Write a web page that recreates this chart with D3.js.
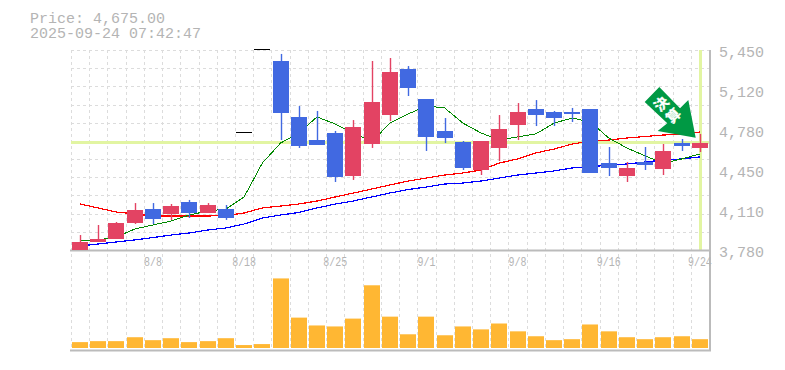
<!DOCTYPE html>
<html>
<head>
<meta charset="utf-8">
<script src="https://cdn.jsdelivr.net/npm/d3@7"></script>
<style>
body { margin: 0; background: #fff; }
svg { display: block; }
text { font-family: "Liberation Mono", monospace; fill: #b4b4b4; }
</style>
</head>
<body>
<div id="chart"></div>
<script>
const dates = ["8/4","8/5","8/6","8/7","8/8","8/12","8/13","8/14","8/15","8/18","8/19","8/20","8/21","8/22","8/25","8/26","8/27","8/28","8/29","9/1","9/2","9/3","9/4","9/5","9/8","9/9","9/10","9/11","9/12","9/16","9/17","9/18","9/19","9/22","9/24"];
const opens = [3780,3847,3872,4005,4122,4081,4181,4089,4122,4757,5450,5358,4891,4698,4757,4398,4665,4907,5291,5041,4774,4682,4448,4632,4824,4957,4932,4932,4957,4506,4398,4515,4456,4673,4632];
const highs = [3905,3989,4014,4172,4172,4164,4198,4172,4156,4757,5450,5417,4982,4941,4774,4865,5358,5383,5316,5041,4882,4690,4690,4907,5007,5032,4941,4966,4957,4640,4515,4640,4665,4707,4749];
const lows = [3780,3847,3872,3997,3997,4031,4047,4089,4031,4757,5450,4698,4632,4657,4348,4365,4632,4857,5066,4607,4673,4448,4406,4523,4698,4815,4815,4849,4423,4398,4348,4448,4406,4607,4598];
const closes = [3847,3872,4005,4114,4039,4147,4089,4156,4047,4757,5450,4924,4648,4657,4390,4807,5016,5266,5133,4724,4715,4465,4690,4790,4932,4907,4882,4916,4423,4465,4465,4490,4607,4648,4675];
const ma5 = [3855,3864,3889,3955,3989,4022,4072,4106,4122,4223,4506,4673,4757,4891,4832,4757,4682,4840,4916,4982,4966,4840,4757,4698,4724,4749,4840,4882,4849,4715,4632,4565,4506,4540,4582];
const ma25 = [4164,4131,4097,4081,4064,4064,4064,4064,4068,4089,4131,4147,4164,4189,4223,4256,4289,4323,4356,4381,4406,4423,4448,4506,4540,4590,4623,4665,4690,4698,4715,4728,4740,4749,4765];
const ma75 = [3813,3830,3847,3864,3884,3905,3922,3947,3964,3997,4047,4072,4093,4131,4164,4189,4223,4256,4285,4306,4331,4339,4356,4381,4406,4423,4440,4465,4473,4490,4498,4515,4532,4540,4557];
const volumes = [6,7,7,11,8,10,6,7,10,3,4,71,31,23,22,30,64,32,14,32,13,22,19,25,17,12,8,9,24,17,11,9,11,12,9];
const priceTicks = [3780,4110,4450,4780,5120,5450];
const dateTicks = ["8/8","8/18","8/25","9/1","9/8","9/16","9/24"];
const gridSteps = d3.range(12);
const lastPrice = 4675;

const svg = d3.select("#chart").append("svg").attr("width", 785).attr("height", 370);

const x = d3.scaleBand().domain(dates).range([70.9, 709]);
const y = d3.scaleLinear().domain([3780, 5450]).range([250, 50]);
const yVol = d3.scaleLinear().domain([0, 100]).range([348, 250]);
const cx = i => x(dates[i]) + x.bandwidth() / 2;
const snap = v => Math.round(v) + 0.5;

svg.append("text").attr("x", 30).attr("y", 23).style("font-size", "15px").text("Price: 4,675.00");
svg.append("text").attr("x", 30).attr("y", 38).style("font-size", "15px").text("2025-09-24 07:42:47");

// grid
const gridColor = "#dcdcdc";
svg.selectAll(".hgrid").data(gridSteps).enter().append("line")
	.attr("x1", 71).attr("x2", 710)
	.attr("y1", d => snap(50 + d * 200 / 11)).attr("y2", d => snap(50 + d * 200 / 11))
	.attr("stroke", gridColor).attr("stroke-dasharray", "3,3");
svg.selectAll(".vgrid").data(dates).enter().append("line")
	.attr("x1", d => snap(x(d))).attr("x2", d => snap(x(d)))
	.attr("y1", 50).attr("y2", 350)
	.attr("stroke", gridColor).attr("stroke-dasharray", "3,3");

// current price cross
svg.append("rect").attr("x", 71).attr("y", Math.round(y(lastPrice)) - 2).attr("width", 638).attr("height", 3).attr("fill", "#e2f5a2");
svg.append("rect").attr("x", Math.round(cx(34)) - 1).attr("y", 50).attr("width", 3).attr("height", 200).attr("fill", "#e2f5a2");

// frame
const frameColor = "#bbb";
[[70, 250.5, 710, 250.5], [70, 350.5, 711, 350.5], [710, 50, 710, 351]].forEach(l => {
	svg.append("line").attr("x1", l[0]).attr("y1", l[1]).attr("x2", l[2]).attr("y2", l[3])
		.attr("stroke", frameColor).attr("stroke-width", 2);
});

// moving averages
const line = d3.line().x((d, i) => cx(i)).y(d => y(d));
[[ma25, "#f00", 1.2], [ma75, "#00f", 1.2], [ma5, "#080", 1]].forEach(m => {
	svg.append("path").attr("d", line(m[0])).attr("fill", "none").attr("stroke", m[1])
		.attr("stroke-width", m[2]).attr("shape-rendering", "crispEdges");
});

// candles
const idx = d3.range(dates.length);
const candleColor = i => closes[i] == opens[i] ? "#000" : closes[i] > opens[i] ? "#e34363" : "#4169e1";
svg.selectAll(".wick").data(idx).enter().append("line")
	.attr("x1", i => Math.round(cx(i)) + 0.5).attr("x2", i => Math.round(cx(i)) + 0.5)
	.attr("y1", i => y(highs[i])).attr("y2", i => y(lows[i]))
	.attr("stroke", candleColor).attr("stroke-width", 1.4);
svg.selectAll(".body").data(idx).enter().append("rect")
	.attr("x", i => Math.round(cx(i)) - 8)
	.attr("y", i => Math.round(y(Math.max(opens[i], closes[i]))) - (closes[i] == opens[i] ? 1 : 0))
	.attr("width", 16)
	.attr("height", i => Math.max(1, Math.round(Math.abs(y(opens[i]) - y(closes[i])))))
	.attr("fill", candleColor);

// volume
svg.selectAll(".vol").data(idx).enter().append("rect")
	.attr("x", i => Math.round(cx(i)) - 8)
	.attr("y", i => yVol(volumes[i]))
	.attr("width", 16)
	.attr("height", i => yVol(0) - yVol(volumes[i]))
	.attr("fill", "#ffb733");

// labels
svg.selectAll(".plabel").data(priceTicks).enter().append("text")
	.attr("x", 719).attr("y", d => y(d) + 7)
	.style("font-size", "15px")
	.text(d => d3.format(",")(d));
svg.selectAll(".dlabel").data(dateTicks).enter().append("text")
	.attr("transform", d => "translate(" + cx(dates.indexOf(d)) + ",266) scale(0.83,1)")
	.attr("text-anchor", "middle")
	.style("font-size", "12px")
	.text(d => d);

// announcement arrow
svg.append("path")
	.attr("d", "M659.3,87 L644.7,102 L667.3,123.3 L657.7,131 L695.7,137.7 L688.3,100 L680,108.3 Z")
	.attr("fill", "#009944");
[["決", 660.7, 103.3], ["算", 672.7, 115]].forEach(k => {
	svg.append("text").attr("text-anchor", "middle").attr("dominant-baseline", "central")
		.attr("transform", "translate(" + k[1] + "," + k[2] + ") rotate(-45)")
		.style("font-family", "'Noto Sans CJK JP'").style("font-size", "14px").style("font-weight", "bold").style("fill", "#fff")
		.style("stroke", "#fff").style("stroke-width", "0.3px")
		.text(k[0]);
});
</script>
</body>
</html>
